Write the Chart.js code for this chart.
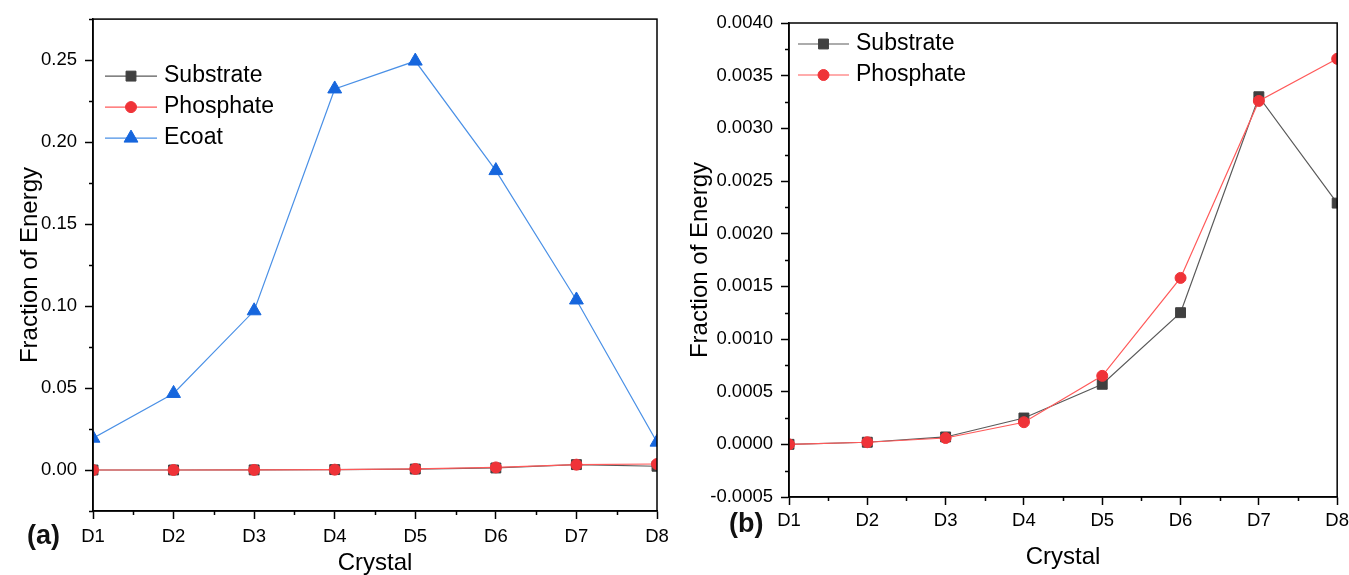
<!DOCTYPE html>
<html>
<head>
<meta charset="utf-8">
<script src="https://cdn.jsdelivr.net/npm/chart.js@4.4.1/dist/chart.umd.min.js"></script>
<style>
  html, body { margin: 0; padding: 0; background: #fff; }
  body { width: 1349px; height: 575px; position: relative; overflow: hidden; font-family: Arial, "Liberation Sans", sans-serif; }
  canvas { position: absolute; top: 0; }
  #chartA { left: 0; }
  #chartB { left: 680px; }
  .tag { position: absolute; font-weight: bold; font-size: 27px; line-height: 1; color: #111; }
</style>
</head>
<body>
<canvas id="chartA" width="680" height="575"></canvas>
<canvas id="chartB" width="674" height="575"></canvas>
<div class="tag" style="left:27px; top:522px;">(a)</div>
<div class="tag" style="left:729px; top:510px;">(b)</div>
<script>
// Fraction of deposited energy per crystal
const crystals = ['D1', 'D2', 'D3', 'D4', 'D5', 'D6', 'D7', 'D8'];
const substrate = [0, 0.00002, 0.00007, 0.00025, 0.00057, 0.00125, 0.00330, 0.00229];
const phosphate = [0, 0.00002, 0.00006, 0.00021, 0.00065, 0.00158, 0.00326, 0.00366];
const ecoat = [0.0194, 0.0467, 0.0971, 0.2324, 0.2494, 0.1826, 0.1037, 0.0170];

// labelled y ticks of each panel
const yTicksA = [0, 0.05, 0.10, 0.15, 0.20, 0.25];
const yTicksB = [-0.0005, 0, 0.0005, 0.0010, 0.0015, 0.0020, 0.0025, 0.0030, 0.0035, 0.0040];

const FONT = 'Arial, "Liberation Sans", sans-serif';

function series(label, data, line, fill, pointStyle, radius, order) {
    return {
        label, data, order,
        borderColor: line, borderWidth: 1.2,
        backgroundColor: fill,
        pointBackgroundColor: fill, pointBorderColor: fill, pointBorderWidth: 1,
        pointStyle, pointRadius: radius, pointHoverRadius: radius,
        tension: 0, clip: 0
    };
}

// box around the plot plus the short unlabelled ticks
const frameTicks = {
    id: 'frameTicks',
    afterDraw(chart, args, opts) {
        const { ctx, chartArea: a, scales: { x, y } } = chart;
        ctx.save();
        ctx.strokeStyle = '#000';
        ctx.lineWidth = 1.5;
        ctx.strokeRect(a.left, a.top, a.right - a.left, a.bottom - a.top);

        const t = opts.yTicks;
        const step = t[1] - t[0];
        const minor = t.map(v => v + step / 2).concat(t[0] - step / 2)
            .filter(v => v >= y.min - 1e-12 && v <= y.max + 1e-12);
        ctx.beginPath();
        minor.forEach(v => {
            const py = Math.round(y.getPixelForValue(v)) + 0.5;
            ctx.moveTo(a.left, py);
            ctx.lineTo(a.left - 4, py);
        });
        for (let i = 0; i < crystals.length - 1; i++) {
            const px = Math.round(x.getPixelForValue(i + 0.5)) + 0.5;
            ctx.moveTo(px, a.bottom);
            ctx.lineTo(px, a.bottom + 4);
        }
        ctx.stroke();
        ctx.restore();
    }
};

// legend drawn inside the plot, line with marker in the middle
const insideLegend = {
    id: 'insideLegend',
    afterDraw(chart, args, opts) {
        const { ctx, chartArea: a } = chart;
        ctx.save();
        ctx.font = '23px ' + FONT;
        ctx.textBaseline = 'middle';
        chart.data.datasets.forEach((ds, i) => {
            const x = a.left + opts.left;
            const y = a.top + opts.top + i * opts.rowGap;
            ctx.strokeStyle = ds.borderColor;
            ctx.lineWidth = ds.borderWidth;
            ctx.beginPath();
            ctx.moveTo(x, y);
            ctx.lineTo(x + opts.lineLen, y);
            ctx.stroke();
            ctx.fillStyle = ds.pointBackgroundColor;
            ctx.strokeStyle = ds.pointBorderColor;
            ctx.lineWidth = ds.pointBorderWidth;
            Chart.helpers.drawPoint(ctx, {
                pointStyle: ds.pointStyle, radius: ds.pointRadius,
                borderWidth: ds.pointBorderWidth, rotation: 0
            }, x + opts.lineLen / 2, y);
            ctx.fillStyle = '#000';
            ctx.fillText(ds.label, x + opts.lineLen + opts.gap, y);
        });
        ctx.restore();
    }
};

function buildOptions(o) {
    return {
        responsive: false,
        devicePixelRatio: 1,
        animation: false,
        events: [],
        layout: { padding: o.pad },
        plugins: {
            legend: { display: false },
            tooltip: { enabled: false },
            frameTicks: { yTicks: o.yTicks },
            insideLegend: o.legend
        },
        scales: {
            x: {
                type: 'category',
                offset: false,
                grid: { display: true, drawOnChartArea: false, drawTicks: true, tickLength: 8, tickColor: '#000', tickWidth: 1.5, offset: false },
                border: { display: true, color: '#000', width: 1.5 },
                ticks: { color: '#000', font: { family: FONT, size: 18.5 }, padding: o.xTickPad, maxRotation: 0, autoSkip: false },
                title: { display: true, text: 'Crystal', color: '#000', font: { family: FONT, size: 24, lineHeight: 1 }, padding: { top: 0, bottom: o.xTitlePad } },
                afterFit: s => { s.height = o.axisH; }
            },
            y: {
                type: 'linear',
                min: o.yMin,
                max: o.yMax,
                grid: { display: true, drawOnChartArea: false, drawTicks: true, tickLength: 8, tickColor: '#000', tickWidth: 1.5 },
                border: { display: true, color: '#000', width: 1.5 },
                ticks: { color: '#000', font: { family: FONT, size: 18.5 }, padding: 8, callback: v => v.toFixed(o.digits) },
                afterBuildTicks: s => { s.ticks = o.yTicks.map(v => ({ value: v })); },
                title: { display: true, text: 'Fraction of Energy', color: '#000', font: { family: FONT, size: 24, lineHeight: 1 }, padding: { top: o.yTitlePad, bottom: 0 } },
                afterFit: s => { s.width = o.axisW; }
            }
        }
    };
}

new Chart(document.getElementById('chartA'), {
    type: 'line',
    data: {
        labels: crystals,
        datasets: [
            series('Substrate', substrate, '#5a5a5a', '#404040', 'rect', 7, 2),
            series('Phosphate', phosphate, '#ff5a5a', '#ef3338', 'circle', 5.5, 1),
            series('Ecoat', ecoat, '#4a90e6', '#1666dd', 'triangle', 8, 0)
        ]
    },
    options: buildOptions({
        yMin: -0.025, yMax: 0.275, yTicks: yTicksA, digits: 2,
        axisW: 93, axisH: 64, pad: { top: 18, right: 23, left: 0, bottom: 0 },
        xTickPad: 7, xTitlePad: 0, yTitlePad: 18,
        legend: { left: 12, top: 57, rowGap: 31, lineLen: 52, gap: 7 }
    }),
    plugins: [frameTicks, insideLegend]
});

new Chart(document.getElementById('chartB'), {
    type: 'line',
    data: {
        labels: crystals,
        datasets: [
            series('Substrate', substrate, '#5a5a5a', '#404040', 'rect', 7, 2),
            series('Phosphate', phosphate, '#ff5a5a', '#ef3338', 'circle', 5.5, 1)
        ]
    },
    options: buildOptions({
        yMin: -0.0005, yMax: 0.004, yTicks: yTicksB, digits: 4,
        axisW: 109, axisH: 78, pad: { top: 23, right: 12, left: 0, bottom: 0 },
        xTickPad: 5, xTitlePad: 6, yTitlePad: 8,
        legend: { left: 9, top: 21, rowGap: 31, lineLen: 51, gap: 7 }
    }),
    plugins: [frameTicks, insideLegend]
});
</script>
</body>
</html>
